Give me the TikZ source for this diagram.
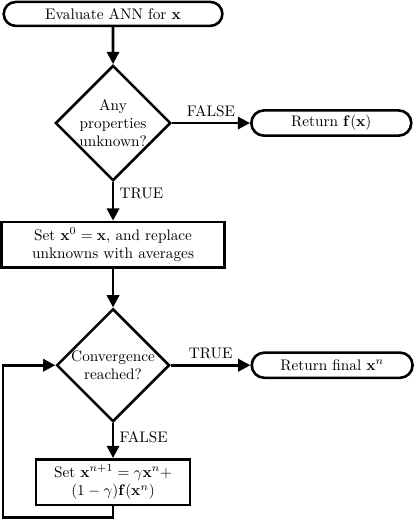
\documentclass[tikz,border=0pt]{standalone}
\usepackage{amsmath}
\usepackage{amssymb}
\usepackage{tikz}
\usetikzlibrary{arrows.meta, shapes.geometric, shapes.misc, positioning}

\begin{document}
\begin{tikzpicture} [
                term/.style={draw, rounded rectangle, line width=1.7pt, minimum width=3.75cm, minimum height=0.58cm, inner sep=1pt, text centered},
                box/.style={draw, rectangle, line width=1.7pt, minimum height=1.05cm, inner sep=2pt, align=center},
                decision/.style={draw, diamond, line width=1.7pt, minimum width=2.47cm, minimum height=2.47cm, inner sep=0pt, align=center},
                arrow/.style={-{Triangle[length=8pt, width=8pt]}, line width=1.8pt}
            ]
            \useasboundingbox (0,0) rectangle (9.545,-11.96);

            % Start
            \node[term, minimum width=5.1cm, minimum height=0.55cm] (evalANN) at (2.6,-0.32) {Evaluate ANN for $\mathbf{x}$};

            % First decision
            \node[decision] (anyUnknown) at (2.6,-2.83) {Any\\properties\\unknown?};
            \node[term] (returnF) at (7.62,-2.83) {Return $\mathbf{f}(\mathbf{x})$};

            % Initialisation
            \node[box, minimum width=5.13cm] (init) at (2.6,-5.63) {Set $\mathbf{x}^0 = \mathbf{x}$, and replace\\unknowns with averages};

            % Iteration
            \node[decision, minimum height=2.4cm] (converged) at (2.6,-8.4) {Convergence\\reached?};
            \node[term, minimum width=3.77cm] (returnFinal) at (7.64,-8.4) {Return final $\mathbf{x}^n$};
            \node[box, minimum width=3.54cm] (update) at (2.6,-11.09) {Set $\mathbf{x}^{n+1} = \gamma\mathbf{x}^n +$\\$(1-\gamma)\mathbf{f}(\mathbf{x}^n)$};
            \coordinate (loopCorner) at (0.07,-11.91);

            % Connections
            \draw[arrow] (evalANN) -- (anyUnknown);
            \draw[arrow] (anyUnknown) -- node[above] {FALSE} (returnF);
            \draw[arrow] (anyUnknown) -- node[right, pos=0.3] {TRUE} (init);
            \draw[arrow] (init) -- (converged);
            \draw[arrow] (converged) -- node[above] {TRUE} (returnFinal);
            \draw[arrow] (converged) -- node[right, pos=0.4] {FALSE} (update);
            \draw[arrow] (update.south) |- (loopCorner) |- (converged.west);
        \end{tikzpicture}
\end{document}
